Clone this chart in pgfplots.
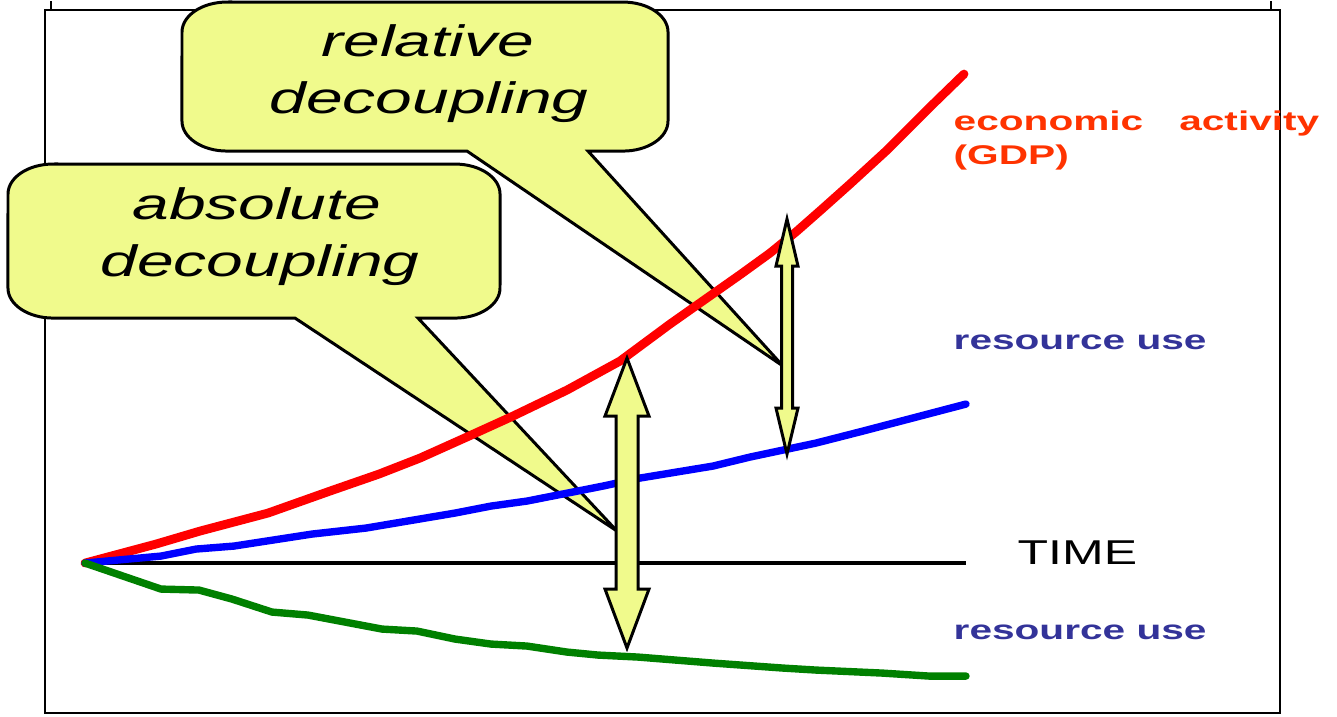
\documentclass[border=0pt]{standalone}
\usepackage{fontspec}
\setmainfont{Liberation Sans}
\usepackage{graphicx}
\usepackage{pgfplots}
\pgfplotsset{compat=1.18}

\definecolor{bubble}{RGB}{240,250,140}
\definecolor{gdplab}{RGB}{255,51,0}
\definecolor{reslab}{RGB}{51,51,153}
\definecolor{resgreen}{RGB}{0,128,0}

\tikzset{
    callout/.style={draw=black, line width=0.85pt, fill=bubble, line join=miter},
    dbl/.style={draw=black, line width=0.85pt, fill=bubble, line join=miter},
    rnd/.style={x radius=0.45cm, y radius=0.3cm},
}

% text in the original is stretched sideways
\newcommand{\wide}[1]{\scalebox{1.5}[1]{#1}}

\begin{document}
\begin{tikzpicture}
\begin{axis}[
    x=0.01cm, y=0.01cm,
    xmin=0, xmax=1337, ymin=0, ymax=715,
    y dir=reverse,
    scale only axis,
    hide axis,
    clip=false,
]
\path (axis cs:0,0) rectangle (axis cs:1337,715);

% frames
\draw[line width=0.6pt] (axis cs:45,9) rectangle (axis cs:1280,712);
\draw[line width=0.6pt] (axis cs:51,0) -- (axis cs:51,9);
\draw[line width=0.6pt] (axis cs:1271,0) -- (axis cs:1271,9);

% time axis
\draw[line width=1.1pt] (axis cs:85,562) -- (axis cs:966,562);

% callouts
\draw[callout] (axis cs:227,1) -- (axis cs:623,1)
    arc[start angle=90, end angle=0, rnd] -- (axis cs:668,120)
    arc[start angle=0, end angle=-90, rnd] -- (axis cs:588,150)
    -- (axis cs:783,365) -- (axis cs:467,150) -- (axis cs:227,150)
    arc[start angle=270, end angle=180, rnd] -- (axis cs:182,31)
    arc[start angle=180, end angle=90, rnd] -- cycle;
\draw[callout] (axis cs:53,163) -- (axis cs:455,163)
    arc[start angle=90, end angle=0, rnd] -- (axis cs:500,287)
    arc[start angle=0, end angle=-90, rnd] -- (axis cs:418,317)
    -- (axis cs:617,530) -- (axis cs:295,317) -- (axis cs:53,317)
    arc[start angle=270, end angle=180, rnd] -- (axis cs:8,193)
    arc[start angle=180, end angle=90, rnd] -- cycle;

\node[anchor=base, inner sep=0] at (axis cs:428,55)
    {\fontsize{12.5}{15}\selectfont\itshape\wide{relative}};
\node[anchor=base, inner sep=0] at (axis cs:429,112)
    {\fontsize{12.5}{15}\selectfont\itshape\wide{decoupling}};
\node[anchor=base, inner sep=0] at (axis cs:257,218)
    {\fontsize{12.5}{15}\selectfont\itshape\wide{absolute}};
\node[anchor=base, inner sep=0] at (axis cs:260,275)
    {\fontsize{12.5}{15}\selectfont\itshape\wide{decoupling}};

% economic activity (GDP)
\addplot[color=red, line width=2.5pt, line cap=round, line join=round] coordinates {
    (85,562) (156,543) (200,530) (268,512) (330,490) (379,473) (420,457)
    (469,435) (513,415) (567,389) (620,360) (670,323) (741,273) (770,252)
    (797,230) (822,208) (850,183) (886,150) (929,107) (964,73)
};
% resource use, relative decoupling
\addplot[color=blue, line width=2.1pt, line cap=round, line join=round] coordinates {
    (85,562) (161,555) (196,548) (234,545) (312,533) (366,527) (455,512)
    (491,505) (527,500) (603,485) (640,477) (713,465) (750,456) (816,442)
    (863,430) (966,403)
};
% resource use, absolute decoupling
\addplot[color=resgreen, line width=2.1pt, line cap=round, line join=round] coordinates {
    (85,562) (161,588) (199,589) (232,598) (272,611) (308,614) (382,628)
    (417,630) (455,638) (491,643) (527,645) (567,651) (598,654) (638,656)
    (713,662) (783,667) (816,669) (882,672) (929,675) (966,675)
};

% double arrows
\draw[dbl] (axis cs:627,357) -- (axis cs:649,415) -- (axis cs:638,415)
    -- (axis cs:638,588) -- (axis cs:649,588) -- (axis cs:627,647)
    -- (axis cs:605,588) -- (axis cs:616,588) -- (axis cs:616,415)
    -- (axis cs:605,415) -- cycle;
\draw[dbl] (axis cs:787,218) -- (axis cs:798,265) -- (axis cs:792.5,265)
    -- (axis cs:792.5,407) -- (axis cs:798,407) -- (axis cs:787,453)
    -- (axis cs:776,407) -- (axis cs:781.5,407) -- (axis cs:781.5,265)
    -- (axis cs:776,265) -- cycle;

% labels
\node[anchor=base west, inner sep=0, text=gdplab] at (axis cs:953,129)
    {\fontsize{7.7}{9}\selectfont\bfseries\wide{economic}};
\node[anchor=base east, inner sep=0, text=gdplab] at (axis cs:1320,129)
    {\fontsize{7.7}{9}\selectfont\bfseries\wide{activity}};
\node[anchor=base west, inner sep=0, text=gdplab] at (axis cs:953,163)
    {\fontsize{7.7}{9}\selectfont\bfseries\wide{(GDP)}};
\node[anchor=base west, inner sep=0, text=reslab] at (axis cs:953,348)
    {\fontsize{7.7}{9}\selectfont\bfseries\wide{resource use}};
\node[anchor=base west, inner sep=0, text=reslab] at (axis cs:953,638)
    {\fontsize{7.7}{9}\selectfont\bfseries\wide{resource use}};
\node[anchor=base west, inner sep=0] at (axis cs:1017,563)
    {\fontsize{9.8}{12}\selectfont\scalebox{1.45}[1]{TIME}};
\end{axis}
\end{tikzpicture}
\end{document}
